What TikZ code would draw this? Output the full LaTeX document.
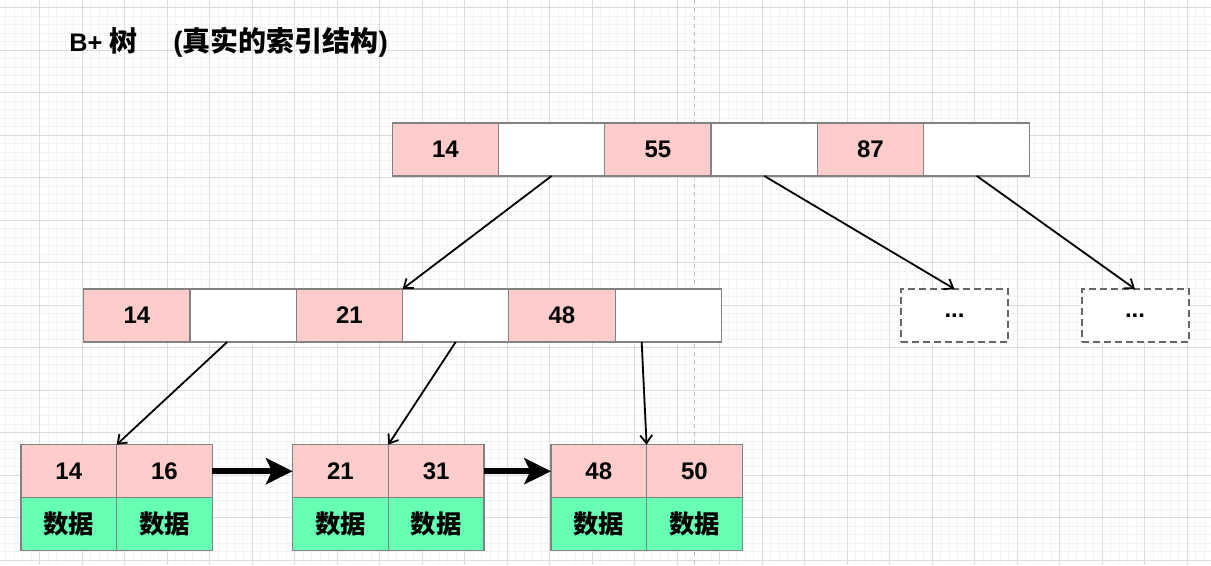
\documentclass[tikz,border=0pt]{standalone}
\usepackage{fontspec}
\setmainfont{Liberation Sans}
\newfontfamily\cjk{Noto Sans CJK SC}
\usetikzlibrary{positioning,arrows.meta,calc}
\definecolor{key_pink}{RGB}{255,204,204}
\definecolor{data_green}{RGB}{102,255,179}
\definecolor{cell_line}{RGB}{130,130,130}
\definecolor{more_line}{RGB}{102,102,102}
\definecolor{grid_major}{RGB}{220,220,220}
\definecolor{grid_minor}{RGB}{242,242,242}
\definecolor{page_edge}{RGB}{190,190,190}
\begin{document}
\begin{tikzpicture}[x=0.75pt,y=-0.75pt]
	\tikzset{cell/.style={draw=cell_line,line width=0.9pt,minimum width=79.7pt,minimum height=39.75pt,inner sep=0pt,outer sep=0pt,font=\fontsize{18}{20}\selectfont\bfseries},
	key_cell/.style={cell,fill=key_pink},
	ptr_cell/.style={cell,fill=white},
	leaf_key/.style={cell,fill=key_pink,minimum width=71.7pt},
	leaf_data/.style={cell,fill=data_green,minimum width=71.7pt,font=\cjk\fontsize{19}{21}\selectfont\bfseries},
	more_box/.style={cell,draw=more_line,line width=1.5pt,dash pattern=on 5.25pt off 3pt,minimum width=80.25pt,fill=white},
	ptr_arrow/.style={line width=1.35pt,-{Straight Barb[length=6pt,width=9pt]}},
	next_arrow/.style={line width=4.5pt,-{Stealth[length=20pt,width=19.5pt,inset=4.5pt]}}}
	\useasboundingbox (0,0) rectangle (1211,565);
	\fill[white] (0,0) rectangle (1211,565);
	\foreach \gx in {5.8,14.3,...,1211} \draw[grid_minor,line width=0.75pt] (\gx,0) -- (\gx,565);
	\foreach \gy in {7.5,16,...,565} \draw[grid_minor,line width=0.75pt] (0,\gy) -- (1211,\gy);
	\foreach \gx in {39.8,82.3,...,1211} \draw[grid_major,line width=0.75pt] (\gx,0) -- (\gx,565);
	\foreach \gy in {7.5,50,...,565} \draw[grid_major,line width=0.75pt] (0,\gy) -- (1211,\gy);
	\draw[page_edge,line width=0.75pt,dash pattern=on 3pt off 3pt] (694.3,0) -- (694.3,565);
	\node[anchor=base west,inner sep=0pt,font=\fontsize{19}{22}\selectfont\bfseries] (title) at (69,51.5) {B+ {\cjk\fontsize{21}{24}\selectfont 树}\hspace{27pt}{\fontsize{21}{24}\selectfont(\cjk 真实的索引结构\normalfont\bfseries)}};
	\node[key_cell] (t1) at (445.4,149.4) {14};
	\node[ptr_cell,right=0pt of t1] (t2) {};
	\node[key_cell,right=0pt of t2] (t3) {55};
	\node[ptr_cell,right=0pt of t3] (t4) {};
	\node[key_cell,right=0pt of t4] (t5) {87};
	\node[ptr_cell,right=0pt of t5] (t6) {};
	\node[key_cell] (m1) at (136.9,315.5) {14};
	\node[ptr_cell,right=0pt of m1] (m2) {};
	\node[key_cell,right=0pt of m2] (m3) {21};
	\node[ptr_cell,right=0pt of m3] (m4) {};
	\node[key_cell,right=0pt of m4] (m5) {48};
	\node[ptr_cell,right=0pt of m5] (m6) {};
	\node[more_box] (d1) at (954.5,315.5) {...};
	\node[more_box] (d2) at (1135,315.5) {...};
	\node[leaf_key] (l1a) at (68.8,471.2) {14};
	\node[leaf_key,right=0pt of l1a] (l1b) {16};
	\node[leaf_data,below=0pt of l1a] (l1c) {数据};
	\node[leaf_data,below=0pt of l1b] (l1d) {数据};
	\node[leaf_key] (l2a) at (340.5,471.2) {21};
	\node[leaf_key,right=0pt of l2a] (l2b) {31};
	\node[leaf_data,below=0pt of l2a] (l2c) {数据};
	\node[leaf_data,below=0pt of l2b] (l2d) {数据};
	\node[leaf_key] (l3a) at (598.8,471.2) {48};
	\node[leaf_key,right=0pt of l3a] (l3b) {50};
	\node[leaf_data,below=0pt of l3a] (l3c) {数据};
	\node[leaf_data,below=0pt of l3b] (l3d) {数据};
	\draw[ptr_arrow] (t2.south) -- (m3.north east);
	\draw[ptr_arrow] (t4.south) -- (d1.north);
	\draw[ptr_arrow] (t6.south) -- (d2.north);
	\draw[ptr_arrow] ($(m2.south west)!0.35!(m2.south east)$) -- (l1a.north east);
	\draw[ptr_arrow] (m4.south) -- (l2a.north east);
	\draw[ptr_arrow] ($(m6.south west)!0.25!(m6.south east)$) -- (l3a.north east);
	\draw[next_arrow] (l1b.east) -- (l2a.west);
	\draw[next_arrow] (l2b.east) -- (l3a.west);
\end{tikzpicture}
\end{document}
